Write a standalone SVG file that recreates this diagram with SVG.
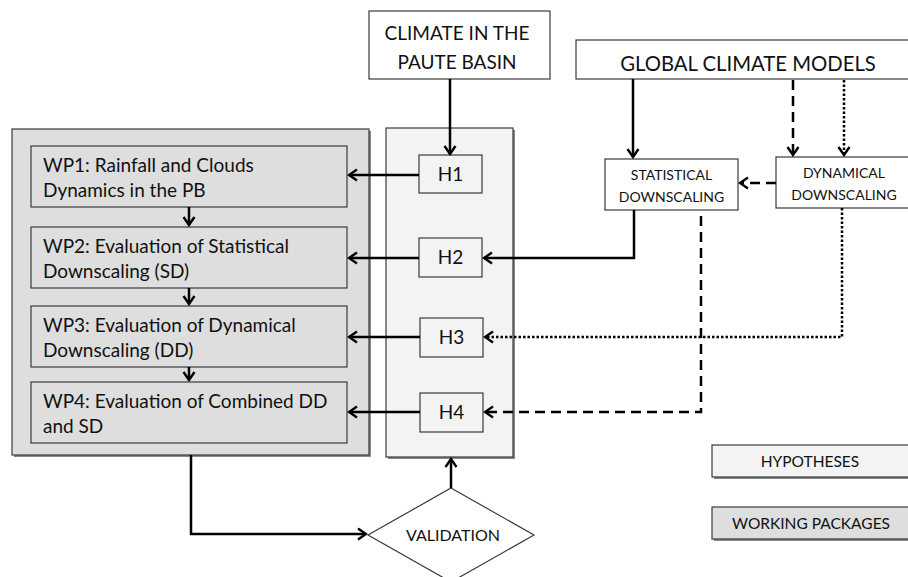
<svg xmlns="http://www.w3.org/2000/svg" width="908" height="577" viewBox="0 0 908 577">
<style>
text{font-family:Lato,"Open Sans","Liberation Sans",sans-serif;fill:#111}
.box{stroke:#3a3a3a;stroke-width:1.2}
.wp{fill:#dedede}
.hy{fill:#f3f3f3}
.wh{fill:#fff}
.sh{fill:#8a8a8a}
.c{fill:none;stroke:#000;stroke-width:2.5}
.dash{stroke-dasharray:10 6}
.dot{stroke-dasharray:2.5 2}
.clim{font-size:19px}
.gcm{font-size:20.3px}
.mid{font-size:19px}
.sm{font-size:14px}
.lg{font-size:15.5px}
.val{font-size:16px}
</style>
<defs>
<marker id="a" viewBox="-11 -7 13 14" refX="0" refY="0" markerWidth="13" markerHeight="14" markerUnits="userSpaceOnUse" orient="auto">
<path d="M-8,-5.5 L0,0 L-8,5.5" fill="none" stroke="#000" stroke-width="2.4" stroke-dasharray="none"/>
</marker>
</defs>

<g id="wp-container">
<rect class="sh" x="14" y="131" width="357" height="326"/>
<rect class="box wp" x="12" y="129" width="357" height="326"/>
</g>
<g id="wp1">
<rect class="box wp" x="31" y="146" width="316" height="61"/>
<text class="mid" x="43" y="172">WP1: Rainfall and Clouds</text>
<text class="mid" x="43" y="197">Dynamics in the PB</text>
</g>
<g id="wp2">
<rect class="box wp" x="31" y="227" width="316" height="61"/>
<text class="mid" x="43" y="253">WP2: Evaluation of Statistical</text>
<text class="mid" x="43" y="278">Downscaling (SD)</text>
</g>
<g id="wp3">
<rect class="box wp" x="31" y="306" width="316" height="61"/>
<text class="mid" x="43" y="332">WP3: Evaluation of Dynamical</text>
<text class="mid" x="43" y="357">Downscaling (DD)</text>
</g>
<g id="wp4">
<rect class="box wp" x="31" y="382" width="316" height="61"/>
<text class="mid" x="43" y="408">WP4: Evaluation of Combined DD</text>
<text class="mid" x="43" y="433">and SD</text>
</g>

<g id="h-container">
<rect class="sh" x="388" y="130" width="127" height="329"/>
<rect class="box hy" x="386" y="128" width="127" height="329"/>
</g>
<g id="h1">
<rect class="box hy" x="419" y="155" width="63" height="38"/>
<text class="mid" x="450.5" y="181" text-anchor="middle">H1</text>
</g>
<g id="h2">
<rect class="box hy" x="419" y="238" width="63" height="39"/>
<text class="mid" x="450.5" y="264" text-anchor="middle">H2</text>
</g>
<g id="h3">
<rect class="box hy" x="420" y="318" width="63" height="39"/>
<text class="mid" x="451.5" y="344" text-anchor="middle">H3</text>
</g>
<g id="h4">
<rect class="box hy" x="420" y="393" width="63" height="39"/>
<text class="mid" x="451.5" y="419" text-anchor="middle">H4</text>
</g>

<g id="climate">
<rect class="box wh" x="369" y="11" width="181" height="68"/>
<text class="clim" x="457" y="40" text-anchor="middle">CLIMATE IN THE</text>
<text class="clim" x="457" y="69" text-anchor="middle">PAUTE BASIN</text>
</g>
<g id="gcm">
<rect class="box wh" x="576" y="40" width="345" height="39"/>
<text class="gcm" x="748" y="71" text-anchor="middle">GLOBAL CLIMATE MODELS</text>
</g>
<g id="statistical">
<rect class="box wh" x="605" y="159" width="133" height="51"/>
<text class="sm" x="671.5" y="180" text-anchor="middle">STATISTICAL</text>
<text class="sm" x="671.5" y="202" text-anchor="middle">DOWNSCALING</text>
</g>
<g id="dynamical">
<rect class="box wh" x="776" y="157" width="140" height="51"/>
<text class="sm" x="844" y="178" text-anchor="middle">DYNAMICAL</text>
<text class="sm" x="844" y="200" text-anchor="middle">DOWNSCALING</text>
</g>
<g id="validation">
<polygon class="box wh" points="451,488 534,535 451,582 368,535"/>
<text class="val" x="453" y="541" text-anchor="middle">VALIDATION</text>
</g>
<g id="legend-hypotheses">
<rect class="sh" x="714" y="447" width="200" height="32"/>
<rect class="box hy" x="712" y="445" width="200" height="32"/>
<text class="lg" x="810" y="467" text-anchor="middle">HYPOTHESES</text>
</g>
<g id="legend-wp">
<rect class="sh" x="714" y="509" width="200" height="32"/>
<rect class="box wp" x="712" y="507" width="200" height="32"/>
<text class="lg" x="811" y="529" text-anchor="middle">WORKING PACKAGES</text>
</g>

<g id="connectors">
<path class="c" d="M450,79 V154" marker-end="url(#a)"/>
<path class="c" d="M419,175 H349" marker-end="url(#a)"/>
<path class="c" d="M419,258 H349" marker-end="url(#a)"/>
<path class="c" d="M420,337 H349" marker-end="url(#a)"/>
<path class="c" d="M420,412 H349" marker-end="url(#a)"/>
<path class="c" d="M189,207 V225" marker-end="url(#a)"/>
<path class="c" d="M189,288 V304" marker-end="url(#a)"/>
<path class="c" d="M189,367 V380" marker-end="url(#a)"/>
<path class="c" d="M633,79 V157" marker-end="url(#a)"/>
<path class="c dash" d="M793,80 V155" marker-end="url(#a)"/>
<path class="c dot" d="M844,80 V155" marker-end="url(#a)"/>
<path class="c dash" d="M776,183 H740" marker-end="url(#a)"/>
<path class="c" d="M634,210 V258 H484" marker-end="url(#a)"/>
<path class="c dash" d="M701,216 V412 H485" marker-end="url(#a)"/>
<path class="c dot" d="M842,208 V337 H485" marker-end="url(#a)"/>
<path class="c" d="M191,455 V534 H366" marker-end="url(#a)"/>
<path class="c" d="M451,488 V459" marker-end="url(#a)"/>
</g>
</svg>
